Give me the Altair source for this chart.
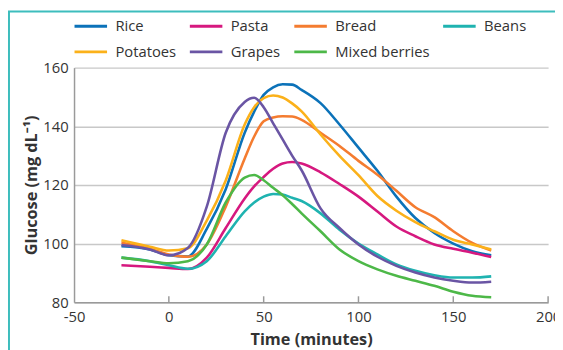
import altair as alt
import pandas as pd

times = [-25, -10, 0, 10, 20, 30, 40, 45, 50, 55, 60, 65, 70, 80, 90, 100, 110, 120, 130, 140, 150, 160, 170]
rice = [99.1, 98.0, 96.0, 95.6, 105.0, 118.5, 137.8, 145.0, 150.7, 153.3, 154.3, 154.2, 152.4, 147.9, 140.6, 132.7, 124.8, 116.0, 108.7, 103.6, 100.0, 97.4, 96.0]
pasta = [92.6, 92.1, 91.7, 91.3, 95.2, 105.3, 115.4, 119.5, 122.7, 125.5, 127.3, 127.8, 127.3, 124.3, 120.3, 116.0, 110.9, 105.8, 102.5, 99.7, 98.2, 96.9, 95.4]
bread = [100.4, 98.2, 96.3, 95.5, 99.7, 112.6, 129.0, 136.5, 141.7, 143.0, 143.4, 143.3, 142.2, 137.8, 133.3, 128.2, 123.5, 118.0, 112.4, 109.0, 104.2, 100.2, 97.6]
beans = [95.2, 94.0, 92.6, 91.4, 94.0, 102.5, 111.0, 114.0, 116.0, 116.9, 116.7, 115.6, 114.5, 110.3, 104.7, 100.0, 96.3, 92.9, 90.7, 89.2, 88.4, 88.4, 88.8]
potatoes = [101.1, 98.9, 97.6, 98.4, 107.8, 121.5, 140.6, 146.5, 149.6, 150.5, 149.8, 147.8, 145.1, 137.2, 129.9, 123.3, 116.2, 111.2, 107.3, 104.2, 101.3, 99.7, 98.0]
grapes = [99.5, 98.0, 96.0, 98.5, 112.6, 137.8, 148.3, 149.7, 146.5, 141.0, 135.5, 130.0, 125.0, 112.0, 105.3, 99.7, 95.5, 92.4, 90.1, 88.4, 87.3, 86.7, 87.0]
berries = [95.2, 94.0, 93.3, 94.0, 99.7, 114.0, 122.5, 123.4, 121.6, 119.0, 116.5, 113.5, 110.3, 104.2, 98.0, 94.0, 91.2, 89.0, 87.3, 85.6, 83.6, 82.2, 81.7]

foods = ["Rice", "Pasta", "Bread", "Beans", "Potatoes", "Grapes", "Mixed berries"]
colors = ["#0b72b9", "#d6187f", "#f47c30", "#1fb3b0", "#fbb11a", "#6a55a4", "#4db848"]
series = [rice, pasta, bread, beans, potatoes, grapes, berries]
# legend fills column by column: order entries so that rows read Rice..Beans / Potatoes..Mixed berries
legend_order = ["Rice", "Potatoes", "Pasta", "Grapes", "Bread", "Mixed berries", "Beans"]
x_ticks = [-50, 0, 50, 100, 150, 200]
y_ticks = [80, 100, 120, 140, 160]

rows = []
for name, vals in zip(foods, series):
    for t, v in zip(times, vals):
        rows.append({"food": name, "time": t, "glucose": v, "order": foods.index(name)})
df = pd.DataFrame(rows)

color_map = dict(zip(foods, colors))

FONT = "Open Sans"
W, H = 481, 238

xscale = alt.Scale(domain=[-50, 200], nice=False)
yscale = alt.Scale(domain=[80, 160], nice=False)

lines = alt.Chart(df).mark_line(interpolate="monotone", strokeWidth=2.6).encode(
    x=alt.X("time:Q", scale=xscale,
            axis=alt.Axis(values=x_ticks, title="Time (minutes)", grid=False, ticks=False,
                          domainColor="#9a9a9a", domainWidth=1.5, labelPadding=8,
                          titlePadding=7, labelFlush=False,
                          labelExpr="'' + datum.value")),
    y=alt.Y("glucose:Q", scale=yscale,
            axis=alt.Axis(values=y_ticks, title="Glucose (mg dL⁻¹)", grid=True, ticks=False,
                          gridColor="#c8c8c8", gridWidth=1.5,
                          domainColor="#9a9a9a", domainWidth=1.5, labelPadding=6,
                          titlePadding=3)),
    color=alt.Color("food:N",
                    scale=alt.Scale(domain=legend_order,
                                    range=[color_map[f] for f in legend_order]),
                    legend=alt.Legend(title=None, orient="none", legendX=-1, legendY=-60,
                                      columns=4, columnPadding=7, rowPadding=-7,
                                      symbolType="stroke", symbolSize=1089,
                                      symbolStrokeWidth=3, labelOffset=7,
                                      labelFontSize=15, labelFont=FONT, labelColor="#333333",
                                      padding=0)),
    detail="food:N",
    order="order:Q",
)

tick_df = pd.DataFrame({"t": [0, 50, 100, 150, 200]})
ticks = alt.Chart(tick_df).mark_rule(color="#9a9a9a", strokeWidth=1.5).encode(
    x=alt.X("t:Q", scale=xscale),
    y=alt.value(H - 6),
    y2=alt.value(H),
)

border = alt.Chart(pd.DataFrame({"a": [0]})).mark_rect(
    fillOpacity=0, stroke="#3dbdbd", strokeWidth=2
).encode(
    x=alt.value(-66), x2=alt.value(W + 200),
    y=alt.value(-57), y2=alt.value(H + 200),
)

chart = alt.layer(border, lines, ticks).properties(
    width=W, height=H,
    autosize=alt.AutoSizeParams(type="none"),
    padding={"left": 67, "top": 58, "right": 7, "bottom": 46},
).configure_view(strokeWidth=0).configure_axis(
    labelFont=FONT, labelFontSize=15, labelColor="#333333",
    titleFont=FONT, titleFontSize=16.5, titleFontWeight="bold", titleColor="#333333",
)

chart.save("out.html", embed_options={"renderer": "svg", "actions": False})
